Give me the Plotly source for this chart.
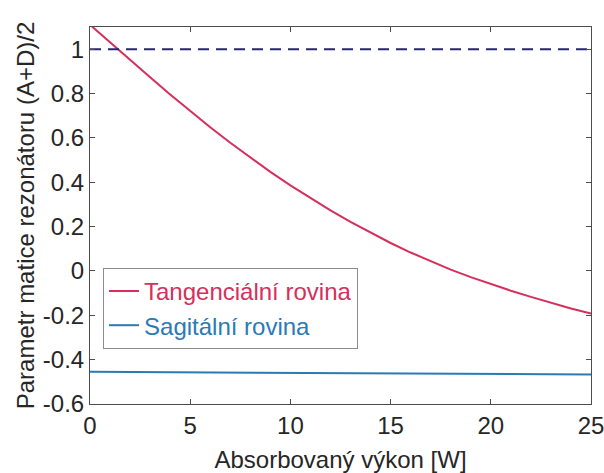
import plotly.graph_objects as go

# Absorbed pump power [W]
power = list(range(0, 26))

# (A+D)/2 of the resonator matrix, tangential plane
tangential = [1.110, 1.030, 0.951, 0.873, 0.796, 0.721, 0.648, 0.578, 0.511, 0.447,
              0.386, 0.328, 0.273, 0.221, 0.172, 0.126, 0.083, 0.043, 0.006, -0.028,
              -0.059, -0.089, -0.117, -0.144, -0.169, -0.192]

# (A+D)/2 of the resonator matrix, sagittal plane
sagittal_power = [0, 5, 10, 15, 20, 25]
sagittal = [-0.455, -0.4575, -0.460, -0.4625, -0.465, -0.467]

# Stability limit
limit_power = [0, 25]
limit = [1, 1]

x_ticks = [0, 5, 10, 15, 20, 25]
y_ticks = [-0.6, -0.4, -0.2, 0, 0.2, 0.4, 0.6, 0.8, 1]
y_tick_text = ["-0.6", "-0.4", "-0.2", "0", "0.2", "0.4", "0.6", "0.8", "1"]

RED = "#d62f5c"
BLUE = "#2a7ab5"
NAVY = "#28266c"
TEXT = "#262626"
FONT = "Liberation Sans, Arial, sans-serif"
SIZE = 24

fig = go.Figure()
fig.add_trace(go.Scatter(
    x=power, y=tangential, mode="lines", line=dict(color=RED, width=2),
    name=f"<span style='color:{RED}'>Tangenciální rovina</span>",
))
fig.add_trace(go.Scatter(
    x=sagittal_power, y=sagittal, mode="lines", line=dict(color=BLUE, width=2),
    name=f"<span style='color:{BLUE}'>Sagitální rovina</span>",
))
fig.add_trace(go.Scatter(
    x=limit_power, y=limit, mode="lines",
    line=dict(color=NAVY, width=2, dash="11px,7px"),
    showlegend=False,
))

axis_common = dict(
    showline=True, linecolor="#4d4d4d", linewidth=1, mirror="ticks",
    ticks="inside", ticklen=5, tickcolor="#4d4d4d", showgrid=False,
    zeroline=False, automargin=False, ticklabeloverflow="allow",
    tickfont=dict(family=FONT, size=SIZE, color=TEXT),
)

fig.update_layout(
    width=604, height=473,
    margin=dict(l=90, r=13, t=27, b=69),
    paper_bgcolor="white", plot_bgcolor="white",
    font=dict(family=FONT, size=SIZE, color=TEXT),
    xaxis=dict(
        range=[0, 25], tickvals=x_ticks,
        title=dict(text="Absorbovaný výkon [W]", standoff=16,
                   font=dict(family=FONT, size=SIZE, color=TEXT)),
        **axis_common,
    ),
    yaxis=dict(
        range=[-0.6, 1.1], tickvals=y_ticks, ticktext=y_tick_text,
        title=dict(text="Parametr matice rezonátoru (A+D)/2", standoff=1,
                   font=dict(family=FONT, size=SIZE, color=TEXT)),
        **axis_common,
    ),
    legend=dict(
        x=0.026, y=0.361, xanchor="left", yanchor="top",
        bgcolor="white", bordercolor="#8c8c8c", borderwidth=1,
        font=dict(family=FONT, size=SIZE, color=TEXT),
        tracegroupgap=0, itemwidth=30,
    ),
)

fig.write_html("out.html")
